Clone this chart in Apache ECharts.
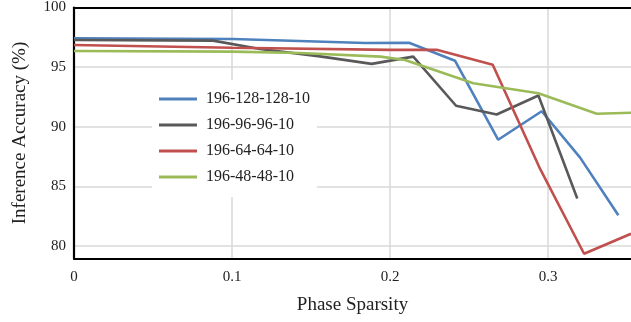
<!DOCTYPE html>
<html>
<head>
<meta charset="utf-8">
<script src="https://cdn.jsdelivr.net/npm/echarts@6/dist/echarts.min.js"></script>
<style>
  html, body { margin: 0; padding: 0; background: #fff; }
  #main { width: 631px; height: 322px; }
</style>
</head>
<body>
<div id="main"></div>
<script>
// series names (legend order)
const seriesNames = ["196-128-128-10", "196-96-96-10", "196-64-64-10", "196-48-48-10"];
const seriesColors = ["#4F81BD", "#595959", "#C0504D", "#9BBB59"];

// phase sparsity (x) and inference accuracy (y) per network
const sparsity128 = [0, 0.1006, 0.1842, 0.2120, 0.2411, 0.2684, 0.2960, 0.3203, 0.3445];
const accuracy128 = [97.41, 97.36, 97.02, 97.05, 95.54, 88.91, 91.30, 87.41, 82.58];

const sparsity96 = [0, 0.088, 0.1177, 0.1557, 0.1884, 0.2147, 0.2418, 0.2675, 0.2939, 0.3185];
const accuracy96 = [97.27, 97.22, 96.52, 95.90, 95.27, 95.88, 91.76, 91.03, 92.62, 83.98];

const sparsity64 = [0, 0.1, 0.2, 0.2295, 0.265, 0.2945, 0.3228, 0.3525];
const accuracy64 = [96.86, 96.62, 96.45, 96.46, 95.20, 86.60, 79.35, 81.02];

const sparsity48 = [0, 0.1, 0.143, 0.194, 0.2095, 0.2527, 0.2939, 0.3308, 0.3525];
const accuracy48 = [96.35, 96.30, 96.19, 95.88, 95.60, 93.65, 92.81, 91.09, 91.17];

// axis ticks
const xTicks = [0, 0.1, 0.2, 0.3];
const yTicks = [80, 85, 90, 95, 100];

const xs = [sparsity128, sparsity96, sparsity64, sparsity48];
const ys = [accuracy128, accuracy96, accuracy64, accuracy48];

const serif = "Liberation Serif";
const chart = echarts.init(document.getElementById("main"));

const series = seriesNames.map((name, i) => ({
  name: name,
  type: "line",
  data: xs[i].map((x, j) => [x, ys[i][j]]),
  showSymbol: false,
  symbol: "none",
  lineStyle: { color: seriesColors[i], width: 2.6 },
  itemStyle: { color: seriesColors[i] },
  animation: false
}));

chart.setOption({
  animation: false,
  grid: { left: 74, right: 0, top: 6.5, bottom: 63.5, containLabel: false },
  legend: {
    orient: "vertical",
    left: 152,
    top: 80,
    padding: [11, 7, 12, 7],
    backgroundColor: "#fff",
    icon: "rect",
    itemWidth: 38,
    itemHeight: 3,
    itemGap: 10,
    textStyle: { fontFamily: serif, fontSize: 16, color: "#222", lineHeight: 16, padding: [0, 0, 0, 4] },
    data: seriesNames
  },
  xAxis: [{
    type: "value",
    min: 0,
    max: 0.3525,
    name: "Phase Sparsity",
    nameLocation: "middle",
    nameGap: 37,
    nameTextStyle: { fontFamily: serif, fontSize: 19, color: "#222" },
    axisLine: { show: true, lineStyle: { color: "#000", width: 2.2 } },
    axisTick: { show: false, customValues: xTicks },
    axisLabel: {
      customValues: xTicks,
      fontFamily: serif, fontSize: 15, color: "#222", margin: 11,
      formatter: v => String(v)
    },
    splitLine: { show: true, lineStyle: { color: "#d9d9d9", width: 1.5 } }
  }, {
    type: "value",
    position: "top",
    min: 0,
    max: 0.3525,
    axisLine: { show: true, lineStyle: { color: "#000", width: 2.2 } },
    axisTick: { show: false },
    axisLabel: { show: false },
    splitLine: { show: false }
  }],
  yAxis: {
    type: "value",
    min: 78.95,
    max: 100,
    name: "Inference Accuracy (%)",
    nameLocation: "middle",
    nameGap: 44,
    nameRotate: 90,
    nameTextStyle: { fontFamily: serif, fontSize: 19, color: "#222" },
    axisLine: { show: true, lineStyle: { color: "#000", width: 2.2 } },
    axisTick: { show: false, customValues: yTicks },
    axisLabel: {
      customValues: yTicks,
      fontFamily: serif, fontSize: 15, color: "#222", margin: 8
    },
    splitLine: { show: true, lineStyle: { color: "#d9d9d9", width: 1.5 } }
  },
  series: series
});
</script>
</body>
</html>
